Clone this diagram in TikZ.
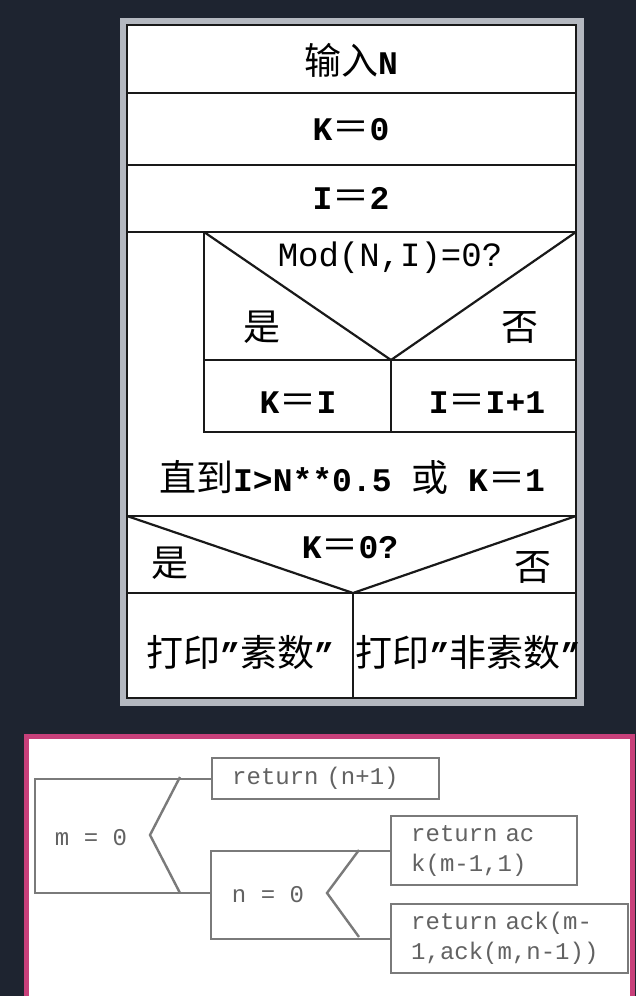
\documentclass[tikz,border=0pt]{standalone}
\usepackage{fontspec}
\setmainfont{Liberation Serif}
\setmonofont{Liberation Mono}
\newfontfamily\cjk{Noto Sans CJK SC}
\newcommand{\zh}[1]{{\cjk\mdseries\fontsize{37}{40}\selectfont #1}}
\definecolor{navy}{HTML}{1E2430}
\definecolor{framegray}{HTML}{B4B8C0}
\definecolor{rosepink}{HTML}{C8407A}
\definecolor{leafgray}{HTML}{7A7A7A}

\begin{document}
\begin{tikzpicture}[x=1pt, y=-1pt,
  ns/.style = {inner sep=0pt, font=\ttfamily\bfseries\fontsize{33}{38}\selectfont},
  cond/.style = {inner sep=0pt, font=\ttfamily\fontsize{34}{38}\selectfont},
  cell/.style = {draw=black!90, line width=2.2pt},
  tree/.style = {draw=leafgray, line width=2.4pt},
  tt/.style = {inner sep=0pt, text=leafgray!80!black, font=\ttfamily\fontsize{24}{30}\selectfont},
  leaf/.style = {tree, anchor=north west, inner xsep=20pt, inner ysep=2pt, align=left,
    text=leafgray!80!black, font=\ttfamily\fontsize{24}{30}\selectfont}]
% background
\fill[navy] (0,0) rectangle (636,996);
\useasboundingbox (0,0) rectangle (636,996);

% N-S chart
\fill[framegray] (120,18) rectangle (584,706);
\filldraw[fill=white, cell] (127,25) rectangle (576,698);
\draw[cell] (127,93) -- (576,93);
\draw[cell] (127,165) -- (576,165);
\draw[cell] (127,232) -- (576,232);
\draw[cell] (204,232) -- (204,432) -- (576,432);
\draw[cell] (204,232) -- (391,360) -- (576,232);
\draw[cell] (204,360) -- (576,360);
\draw[cell] (391,360) -- (391,432);
\draw[cell] (127,516) -- (576,516);
\draw[cell] (127,516) -- (353,593) -- (576,516);
\draw[cell] (127,593) -- (576,593);
\draw[cell] (353,593) -- (353,698);

\node[ns] (input) at (351,60) {\zh{输入}N};
\node[ns] (k0) at (351,130) {K\zh{＝}0};
\node[ns] (i2) at (351,198) {I\zh{＝}2};
\node[cond] (mod) at (390,258) {Mod(N,I)=0?};
\node[ns] (yes1) at (262,327) {\zh{是}};
\node[ns] (no1) at (520,327) {\zh{否}};
\node[ns] (ki) at (298,403) {K\zh{＝}I};
\node[ns] (inc) at (487,403) {I\zh{＝}I+1};
\node[ns] (until) at (352,477) {\zh{直到}I>N**0.5 \zh{或} K\zh{＝}1};
\node[ns] (kzero) at (350,548) {K\zh{＝}0?};
\node[ns] (yes2) at (170,563) {\zh{是}};
\node[ns] (no2) at (533,567) {\zh{否}};
\node[ns] (prime) at (240,652) {\zh{打印}”\zh{素数}”};
\node[ns] (notprime) at (468,652) {\zh{打印}”\zh{非素数}”};

% Ackermann tree
\fill[white] (26,736) rectangle (632,1000);
\draw[rosepink, line width=5pt] (26,1010) -- (26,736) -- (632,736) -- (632,1010);

\node[leaf, text width=187pt, minimum height=41pt] (ret1) at (211,757) {return (n+1)};
\node[leaf, text width=146pt, minimum height=69pt] (ret2) at (390,815) {return ac\\k(m-1,1)};
\node[leaf, text width=197pt, minimum height=69pt] (ret3) at (390,903) {return ack(m-\\1,ack(m,n-1))};

\coordinate (mbl) at (35,893);
\coordinate (nw) at (211,893);
\coordinate (nbl) at (ret3.west -| nw);
\draw[tree] (ret1.west) -| (mbl) -- (nw);
\draw[tree] (ret2.west) -| (nbl) -- (ret3.west);
\draw[tree] (180,777) -- (150,835) -- (180,893);
\draw[tree] (359,850) -- (327,893) -- (359,937);

\node[tt] (m0) at (91,838) {m = 0};
\node[tt] (n0) at (268,895) {n = 0};
\end{tikzpicture}
\end{document}
